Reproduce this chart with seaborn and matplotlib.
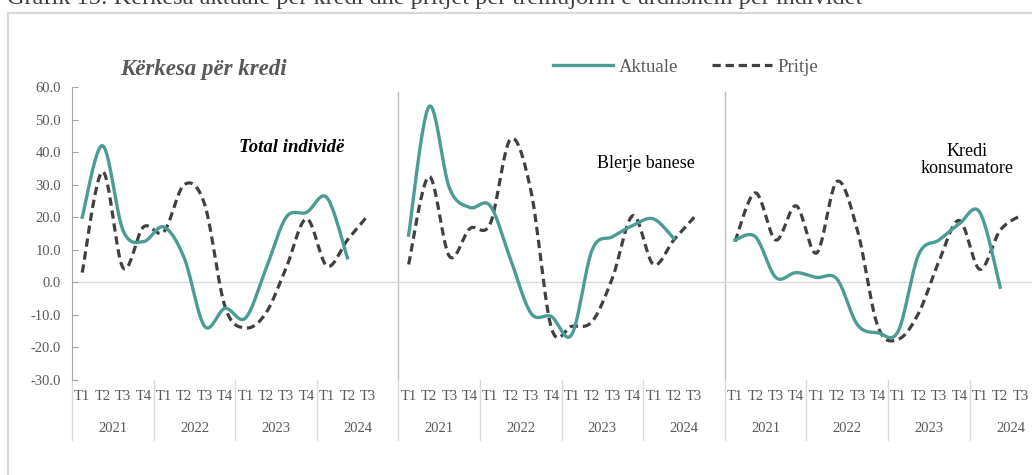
import numpy as np
import pandas as pd
import matplotlib
matplotlib.use("Agg")
import matplotlib.pyplot as plt
from matplotlib.lines import Line2D
from matplotlib.patches import Rectangle
import seaborn as sns

# Data
quarters = ["T1", "T2", "T3", "T4"]
years = ["2021", "2022", "2023", "2024"]
panels = ["Total individë", "Blerje banese", "Kredi\nkonsumatore"]

aktuale_total = [20, 42, 16, 12.5, 17, 7.5, -13.5, -8, -11, 4, 20, 21.5, 26, 7.5]
pritje_total = [3, 34, 4.5, 17, 15.5, 30, 24, -7.5, -14, -9.5, 4.5, 19.5, 5, 13, 20.5]

aktuale_banese = [14.5, 54, 29, 23, 23.5, 7, -9.5, -10.5, -16, 10, 14, 17.5, 19.5, 13.5]
pritje_banese = [5.5, 32.5, 8, 16.5, 18, 44, 28, -14, -13.5, -12, 1.5, 20.5, 5.5, 13, 20]

aktuale_kons = [13, 14, 1.5, 3, 1.5, 1, -13, -15.5, -15, 8.5, 13, 18, 21.5, -1.5]
pritje_kons = [12.5, 27.5, 13, 23.5, 9, 31, 16, -13.5, -17.5, -9.5, 6.5, 19, 4, 16, 20.5]

yticks = [-30, -20, -10, 0, 10, 20, 30, 40, 50, 60]

teal = "#4A9C95"
dark = "#404040"
grey_txt = "#595959"

plt.rcParams["font.family"] = ["Liberation Serif", "DejaVu Serif"]


def smooth(vals, n=24):
    # Excel-like smoothed line (Catmull-Rom Bezier)
    pts = np.column_stack([np.arange(len(vals)), vals]).astype(float)
    out = []
    for i in range(len(pts) - 1):
        p0 = pts[max(i - 1, 0)]
        p1 = pts[i]
        p2 = pts[i + 1]
        p3 = pts[min(i + 2, len(pts) - 1)]
        c1 = p1 + (p2 - p0) / 6
        c2 = p2 - (p3 - p1) / 6
        t = np.linspace(0, 1, n)[:, None]
        b = (1 - t) ** 3 * p1 + 3 * (1 - t) ** 2 * t * c1 + 3 * (1 - t) * t ** 2 * c2 + t ** 3 * p2
        out.append(b if i == 0 else b[1:])
    out = np.vstack(out)
    return out[:, 0], out[:, 1]


series = [
    (aktuale_total, pritje_total),
    (aktuale_banese, pritje_banese),
    (aktuale_kons, pritje_kons),
]

W, H = 1032, 475
fig = plt.figure(figsize=(W / 100, H / 100), dpi=100)
slot = 20.4
ax = fig.add_axes([72 / W, (H - 380) / H, 48 * slot / W, 293 / H])

ax.axhline(0, color="#D9D9D9", lw=1, zorder=1)

for p, (akt, prit) in enumerate(series):
    off = p * 16
    x, y = smooth(prit)
    sns.lineplot(x=x + off, y=y, ax=ax, color=dark, linewidth=2.3, sort=False,
                 estimator=None, zorder=3).lines[-1].set_dashes((2.6, 1.5))
    x, y = smooth(akt)
    sns.lineplot(x=x + off, y=y, ax=ax, color=teal, linewidth=2.4, sort=False,
                 estimator=None, zorder=4)
    if p > 0:
        ax.plot([off - 0.5, off - 0.5], [-30, 58.5], color="#BFBFBF", lw=1, zorder=0)

ax.set_xlim(-0.5, 47.5)
ax.set_ylim(-30, 60)
ax.set_yticks(yticks)
ax.set_yticklabels([f"{v:.1f}" for v in yticks], color=grey_txt, fontsize=10.5)
ax.tick_params(axis="y", direction="in", length=4, color="#A6A6A6", pad=8)
ax.set_xticks([])
for s in ["top", "right", "bottom"]:
    ax.spines[s].set_visible(False)
ax.spines["left"].set_color("#A6A6A6")
ax.set_xlabel("")
ax.set_ylabel("")

# category labels (two rows)
trans = ax.get_xaxis_transform()
for p in range(3):
    off = p * 16
    for yi, yr in enumerate(years):
        nq = 4 if yi < 3 else 3
        for qi in range(nq):
            ax.text(off + yi * 4 + qi, -0.058, quarters[qi], transform=trans,
                    ha="center", va="center", fontsize=10.5, color=grey_txt)
        ax.text(off + yi * 4 + 1.5, -0.164, yr, transform=trans,
                ha="center", va="center", fontsize=10.5, color=grey_txt)
        sep = off + yi * 4 - 0.5
        ax.plot([sep, sep], [0, -0.205], transform=trans, color="#D9D9D9",
                lw=1, clip_on=False)

# panel labels
fig.text(292 / W, 1 - 147 / H, panels[0], ha="center", va="center",
         fontsize=13.5, fontweight="bold", fontstyle="italic", color="black")
fig.text(646 / W, 1 - 164 / H, panels[1], ha="center", va="center",
         fontsize=13, color="black")
fig.text(967 / W, 1 - 160 / H, panels[2], ha="center", va="center",
         fontsize=13, color="black", linespacing=1.05)

# title
fig.text(120 / W, 1 - 70 / H, "Kërkesa për kredi", ha="left", va="center",
         fontsize=16.5, fontweight="bold", fontstyle="italic", color=grey_txt)

# caption cut at the top
fig.text(7 / W, 1 - 4 / H,
         "Grafik 15: Kërkesa aktuale për kredi dhe pritjet për tremujorin e ardhshëm për individët",
         ha="left", va="baseline", fontsize=17.5, color="#404040")

# legend
handles = [
    Line2D([], [], color=teal, lw=2.4),
    Line2D([], [], color=dark, lw=2.3, dashes=(2.6, 1.5)),
]
fig.legend(handles, ["Aktuale", "Pritje"], loc="center",
           bbox_to_anchor=(686 / W, 1 - 67 / H), ncol=2, frameon=False,
           handlelength=3.2, handletextpad=0.3, columnspacing=1.8,
           fontsize=13.5, labelcolor=grey_txt)

# outer frame
fig.add_artist(Rectangle((8 / W, -0.1), 1.2, 1.1 - 13 / H, transform=fig.transFigure,
                         fill=False, edgecolor="#D9D9D9", lw=1.6))

fig.savefig("out.png", dpi=100)
